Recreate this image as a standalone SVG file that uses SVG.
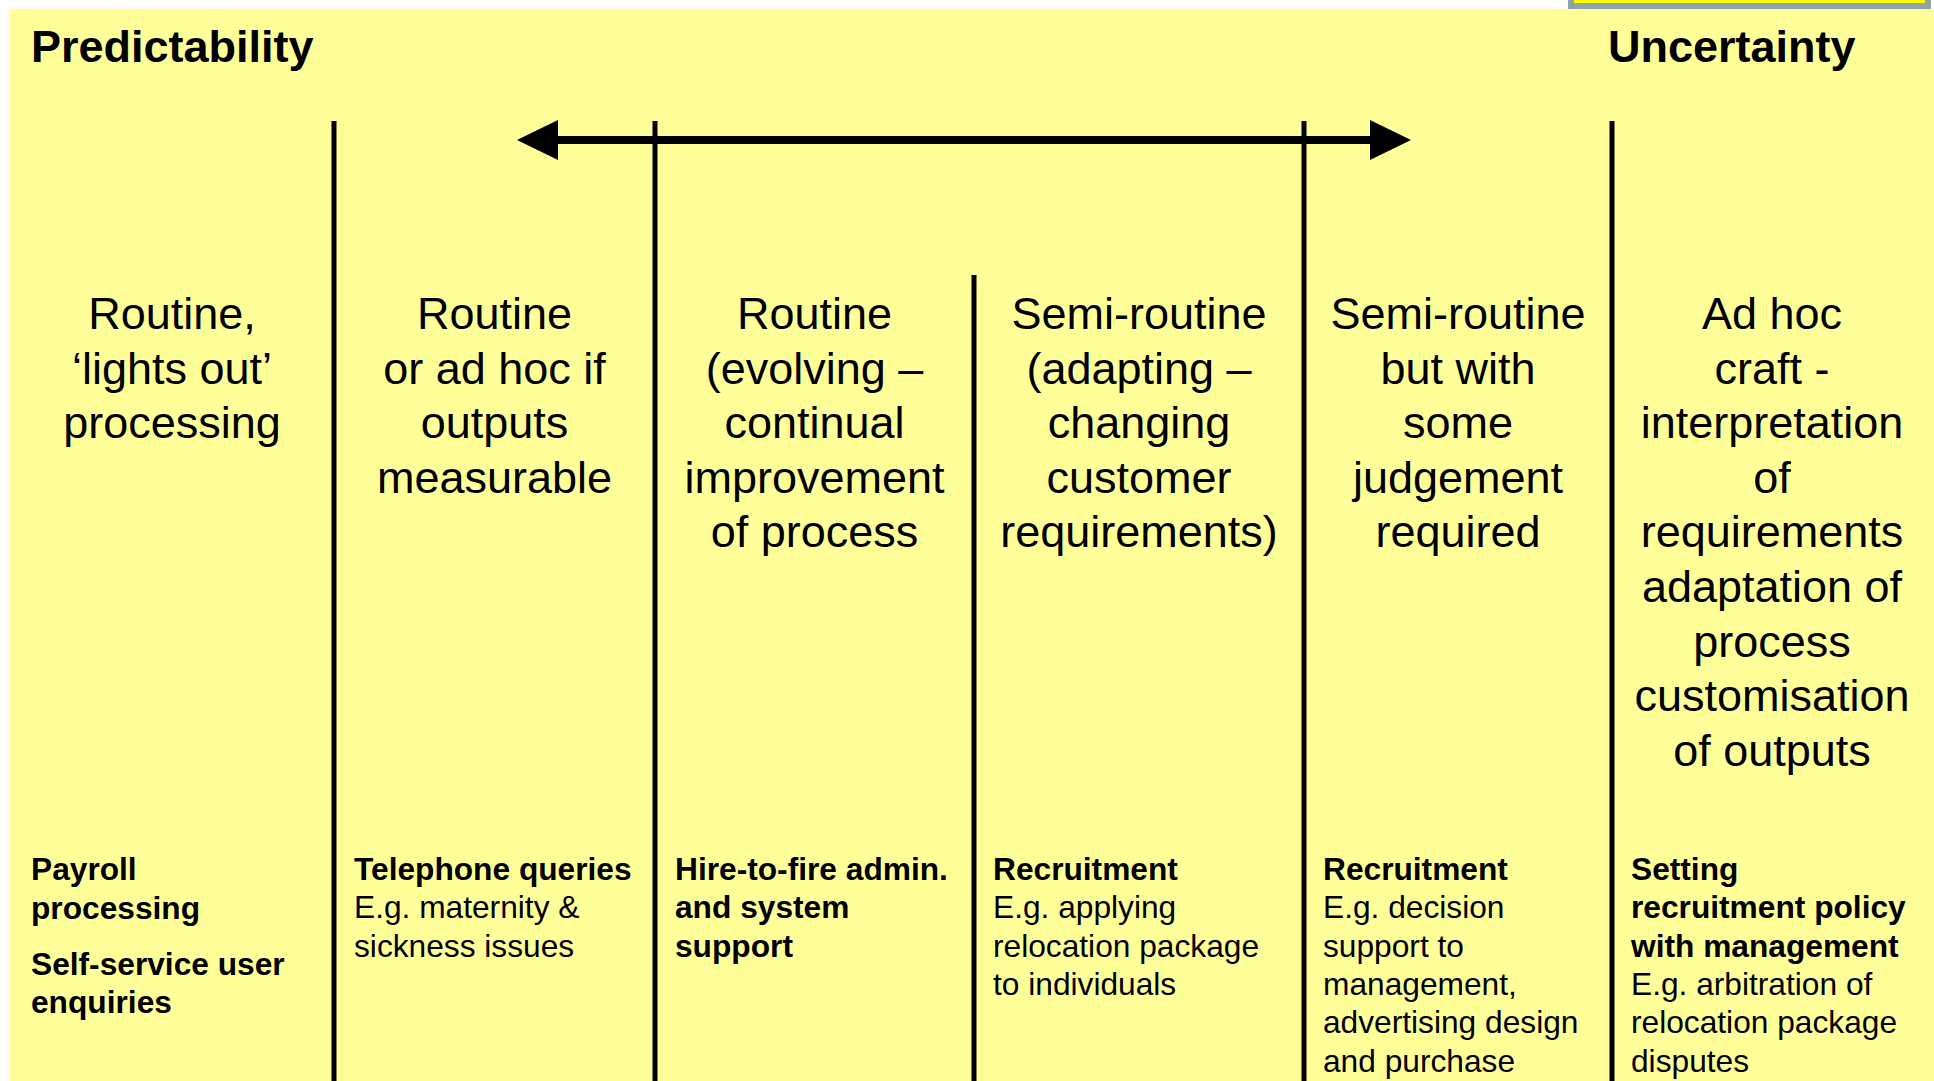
<svg xmlns="http://www.w3.org/2000/svg" width="1934" height="1081" viewBox="0 0 1934 1081">
  <style>
    .title { font-family: "Liberation Sans", Arial, sans-serif; font-size: 45px; font-weight: bold; fill: #000; }
    .head { font-family: "Liberation Sans", Arial, sans-serif; font-size: 45px; fill: #000; text-anchor: middle; }
    .ex { font-family: "Liberation Sans", Arial, sans-serif; font-size: 31.7px; fill: #000; }
    .ex .b { font-weight: bold; }
    .divider { stroke: #000; stroke-width: 5; fill: none; }
    .axis { stroke: #000; stroke-width: 8; fill: none; }
  </style>
  <defs>
    <marker id="head" markerUnits="userSpaceOnUse" markerWidth="42" markerHeight="40" refX="0" refY="20" orient="auto-start-reverse" viewBox="0 0 42 40">
      <path d="M0,0 L41,20 L0,40 Z" fill="#000"/>
    </marker>
  </defs>

  <!-- page background -->
  <rect x="0" y="0" width="1934" height="1081" fill="#FFFFFF"/>
  <rect x="10" y="9" width="1924" height="1072" fill="#FFFF99"/>
  <!-- tab at top right -->
  <rect x="1571" y="-10" width="357" height="16" fill="#FFFF00" stroke="#8FA3A8" stroke-width="6"/>

  <!-- scale ends -->
  <text class="title" x="31" y="62">Predictability</text>
  <text class="title" x="1608" y="62">Uncertainty</text>

  <!-- column dividers and the scale arrow -->
  <g id="connectors">
    <line class="divider" x1="334" y1="121" x2="334" y2="1081"/>
    <line class="divider" x1="655" y1="121" x2="655" y2="1081"/>
    <line class="divider" x1="974" y1="275" x2="974" y2="1081"/>
    <line class="divider" x1="1304" y1="121" x2="1304" y2="1081"/>
    <line class="divider" x1="1612" y1="121" x2="1612" y2="1081"/>
    <line class="axis" x1="558" y1="140" x2="1370" y2="140" marker-start="url(#head)" marker-end="url(#head)"/>
  </g>

  <!-- column 1 -->
  <g id="col-routine-lights-out">
    <text class="head" x="172" y="329"><tspan x="172">Routine,</tspan><tspan x="172" dy="54.6">‘lights out’</tspan><tspan x="172" dy="54.6">processing</tspan></text>
    <text class="ex" x="31" y="880"><tspan class="b" x="31">Payroll</tspan><tspan class="b" x="31" dy="38.5">processing</tspan><tspan class="b" x="31" dy="56">Self-service user</tspan><tspan class="b" x="31" dy="38.5">enquiries</tspan></text>
  </g>

  <!-- column 2 -->
  <g id="col-routine-ad-hoc">
    <text class="head" x="494.5" y="329"><tspan x="494.5">Routine</tspan><tspan x="494.5" dy="54.6">or ad hoc if</tspan><tspan x="494.5" dy="54.6">outputs</tspan><tspan x="494.5" dy="54.6">measurable</tspan></text>
    <text class="ex" x="354" y="880"><tspan class="b" x="354">Telephone queries</tspan><tspan x="354" dy="38.3">E.g. maternity &amp;</tspan><tspan x="354" dy="38.3">sickness issues</tspan></text>
  </g>

  <!-- column 3 -->
  <g id="col-routine-evolving">
    <text class="head" x="814.5" y="329"><tspan x="814.5">Routine</tspan><tspan x="814.5" dy="54.6">(evolving –</tspan><tspan x="814.5" dy="54.6">continual</tspan><tspan x="814.5" dy="54.6">improvement</tspan><tspan x="814.5" dy="54.6">of process</tspan></text>
    <text class="ex" x="675" y="880"><tspan class="b" x="675">Hire-to-fire admin.</tspan><tspan class="b" x="675" dy="38.3">and system</tspan><tspan class="b" x="675" dy="38.3">support</tspan></text>
  </g>

  <!-- column 4 -->
  <g id="col-semi-routine-adapting">
    <text class="head" x="1139" y="329"><tspan x="1139">Semi-routine</tspan><tspan x="1139" dy="54.6">(adapting –</tspan><tspan x="1139" dy="54.6">changing</tspan><tspan x="1139" dy="54.6">customer</tspan><tspan x="1139" dy="54.6">requirements)</tspan></text>
    <text class="ex" x="993" y="880"><tspan class="b" x="993">Recruitment</tspan><tspan x="993" dy="38.3">E.g. applying</tspan><tspan x="993" dy="38.3">relocation package</tspan><tspan x="993" dy="38.3">to individuals</tspan></text>
  </g>

  <!-- column 5 -->
  <g id="col-semi-routine-judgement">
    <text class="head" x="1458" y="329"><tspan x="1458">Semi-routine</tspan><tspan x="1458" dy="54.6">but with</tspan><tspan x="1458" dy="54.6">some</tspan><tspan x="1458" dy="54.6">judgement</tspan><tspan x="1458" dy="54.6">required</tspan></text>
    <text class="ex" x="1323" y="880"><tspan class="b" x="1323">Recruitment</tspan><tspan x="1323" dy="38.3">E.g. decision</tspan><tspan x="1323" dy="38.3">support to</tspan><tspan x="1323" dy="38.3">management,</tspan><tspan x="1323" dy="38.3">advertising design</tspan><tspan x="1323" dy="38.3">and purchase</tspan></text>
  </g>

  <!-- column 6 -->
  <g id="col-ad-hoc-craft">
    <text class="head" x="1772" y="329"><tspan x="1772">Ad hoc</tspan><tspan x="1772" dy="54.6">craft -</tspan><tspan x="1772" dy="54.6">interpretation</tspan><tspan x="1772" dy="54.6">of</tspan><tspan x="1772" dy="54.6">requirements</tspan><tspan x="1772" dy="54.6">adaptation of</tspan><tspan x="1772" dy="54.6">process</tspan><tspan x="1772" dy="54.6">customisation</tspan><tspan x="1772" dy="54.6">of outputs</tspan></text>
    <text class="ex" x="1631" y="880"><tspan class="b" x="1631">Setting</tspan><tspan class="b" x="1631" dy="38.3">recruitment policy</tspan><tspan class="b" x="1631" dy="38.3">with management</tspan><tspan x="1631" dy="38.3">E.g. arbitration of</tspan><tspan x="1631" dy="38.3">relocation package</tspan><tspan x="1631" dy="38.3">disputes</tspan></text>
  </g>
</svg>
